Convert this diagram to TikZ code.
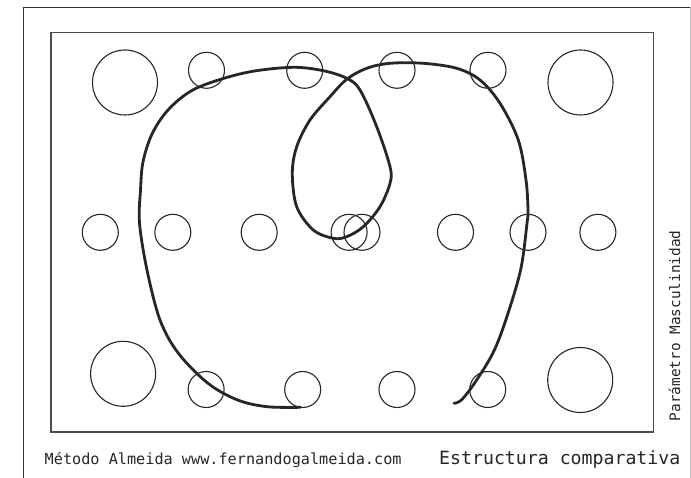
\documentclass[tikz,border=0pt]{standalone}
\usepackage{fontspec}
\setmonofont{DejaVu Sans Mono}
\usepackage{tikz}
\usetikzlibrary{positioning,calc}

\tikzset{
  ring/.style={circle, draw=black!85, line width=1.1pt, inner sep=0pt, minimum size=#1},
  ring/.default=36pt,
  trace/.style={draw=black!85, line width=2.8pt, line cap=round, line join=round},
  frameline/.style={draw=black!80, line width=1.1pt},
  footnote/.style={font=\ttfamily\fontsize{15.2}{18}\selectfont, text=black!85, inner sep=0pt},
}

\begin{document}
\begin{tikzpicture}[x=1pt,y=-1pt]
  \useasboundingbox (0,0) rectangle (691,478);
  \clip (0,0) rectangle (691,478);

  % frames
  \draw[frameline] (23.5,495) -- (23.5,7.5) -- (690.5,7.5);
  \draw[draw=black!25, line width=0.8pt] (690.5,7.5) -- (690.5,495);
  \draw[draw=black!70, line width=1.5pt] (51,32.5) rectangle (653.3,432);

  % top row
  \node[ring=65pt] (t1) at (125,82.5) {};
  \node[ring] (t2) at (206.5,70.3) {};
  \node[ring] (t3) at (304.7,70.3) {};
  \node[ring] (t4) at (397,70.3) {};
  \node[ring] (t5) at (488,70.3) {};
  \node[ring=65pt] (t6) at (580.5,82.5) {};

  % middle row
  \foreach \cx [count=\i] in {100.3,172.8,259.2,349.1,362,455.5,528,597.9}
    \node[ring] (m\i) at (\cx,232.3) {};

  % bottom row
  \node[ring=65pt] (b1) at (123.1,373.8) {};
  \node[ring] (b2) at (206.1,389.5) {};
  \node[ring] (b3) at (302.7,389.5) {};
  \node[ring] (b4) at (397,389.5) {};
  \node[ring] (b5) at (487.7,389.5) {};
  \node[ring=65pt] (b6) at (580.2,380) {};

  % trace
  \draw[trace] plot[smooth, tension=0.55] coordinates {
    (300.5,407.3) (267,406.7) (237.6,400) (208,383.3) (178.4,353.3)
    (160,320) (147,270) (139.5,223) (140.5,190) (143,162) (152,134)
    (168,110) (191,91) (220,79.5) (253.3,71.2) (293.3,67.3)
    (323.3,70.7) (346.7,78.3) (360,90) (376.7,126.7) (390,166.7)
    (390,183.3) (380,206.7) (363.3,226.7) (346.7,236.7) (333.3,238.3)
    (313.3,230) (296.7,206.7) (292.3,173.3) (296.7,146.7) (310,120)
    (330,96.7) (346.7,79.3) (366.7,68.3) (390,63.3) (423.3,63.3)
    (456.7,68.3) (480,80) (500,103.3) (518.3,140) (526,180)
    (528,210) (527,223.3) (520.6,270) (505.8,320) (492.8,353.3)
    (474.4,383.3) (461.4,400) (454,403.3)};

  % labels
  \node[footnote, anchor=base west] (credit) at (44.5,464) {Método Almeida www.fernandogalmeida.com};
  \node[footnote, font=\ttfamily\fontsize{18.2}{21}\selectfont, anchor=base east] (caption) at (680.5,464) {Estructura comparativa};
  \node[footnote, font=\ttfamily\fontsize{14.4}{17}\selectfont, rotate=90, anchor=base west] (axis) at (680,421.5) {Parámetro Masculinidad};
\end{tikzpicture}
\end{document}
